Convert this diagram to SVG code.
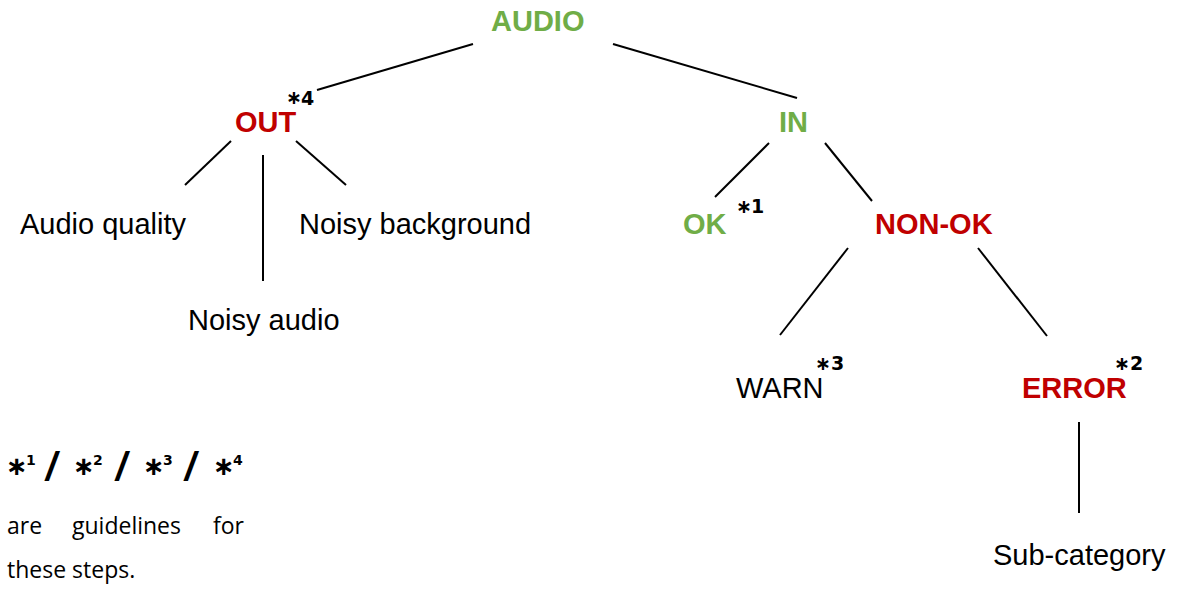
<svg xmlns="http://www.w3.org/2000/svg" width="1177" height="590" viewBox="0 0 1177 590">
<style>
.lbl{font-family:"Liberation Sans",Arial,sans-serif;font-size:29px}
.b{font-weight:bold}
.g{fill:#70AD47}
.r{fill:#C00000}
.k{fill:#000}
.ast{font-family:"DejaVu Sans",sans-serif;font-weight:bold;font-size:19px;fill:#000}
.big{font-size:26px}
.sup{font-size:14px}
.sl{font-family:"Open Sans","Noto Sans",sans-serif;font-size:42px;font-weight:600;fill:#000}
.note{font-family:"Open Sans","Noto Sans",sans-serif;font-size:23px;fill:#000}
.conn line{stroke:#000;stroke-width:2}
</style>
<rect width="1177" height="590" fill="#fff"/>
<g class="conn" id="connectors">
<line x1="473" y1="44" x2="317" y2="90"/>
<line x1="613" y1="44" x2="797" y2="98"/>
<line x1="231" y1="141" x2="185" y2="185"/>
<line x1="263" y1="155" x2="263" y2="281"/>
<line x1="296" y1="141" x2="346" y2="185"/>
<line x1="769" y1="143" x2="715" y2="197"/>
<line x1="825" y1="143" x2="872" y2="201"/>
<line x1="848" y1="248" x2="780" y2="335"/>
<line x1="978" y1="248" x2="1047" y2="336"/>
<line x1="1079" y1="422" x2="1079" y2="513"/>
</g>
<g id="audio"><text class="lbl b g" x="491" y="31">AUDIO</text></g>
<g id="out"><text class="lbl b r" x="235" y="132">OUT</text>
<text class="ast" x="286" y="104">∗</text><text class="ast" x="301" y="105">4</text></g>
<g id="in"><text class="lbl b g" x="779" y="132">IN</text></g>
<g id="audio-quality"><text class="lbl k" x="20" y="234">Audio quality</text></g>
<g id="noisy-audio"><text class="lbl k" x="188" y="330">Noisy audio</text></g>
<g id="noisy-background"><text class="lbl k" x="299" y="234">Noisy background</text></g>
<g id="ok"><text class="lbl b g" x="683" y="234">OK</text>
<text class="ast" x="736" y="213">∗</text><text class="ast" x="751" y="213">1</text></g>
<g id="non-ok"><text class="lbl b r" x="875" y="234">NON-OK</text></g>
<g id="warn"><text class="lbl k" x="736" y="398">WARN</text>
<text class="ast" x="815" y="370">∗</text><text class="ast" x="831" y="370">3</text></g>
<g id="error"><text class="lbl b r" x="1022" y="398">ERROR</text>
<text class="ast" x="1114" y="370">∗</text><text class="ast" x="1130" y="370">2</text></g>
<g id="sub-category"><text class="lbl k" x="993" y="565">Sub-category</text></g>
<g id="note">
<text class="ast big" x="6" y="475">∗</text><text class="ast sup" x="26" y="465">1</text>
<text class="sl" x="44" y="481">/</text>
<text class="ast big" x="73" y="475">∗</text><text class="ast sup" x="93" y="465">2</text>
<text class="sl" x="114" y="481">/</text>
<text class="ast big" x="143" y="475">∗</text><text class="ast sup" x="163" y="465">3</text>
<text class="sl" x="183" y="481">/</text>
<text class="ast big" x="213" y="475">∗</text><text class="ast sup" x="233" y="465">4</text>
<text class="note" x="7" y="534">are</text>
<text class="note" x="72" y="534">guidelines</text>
<text class="note" x="213" y="534">for</text>
<text class="note" x="7" y="578">these steps.</text>
</g>
</svg>
